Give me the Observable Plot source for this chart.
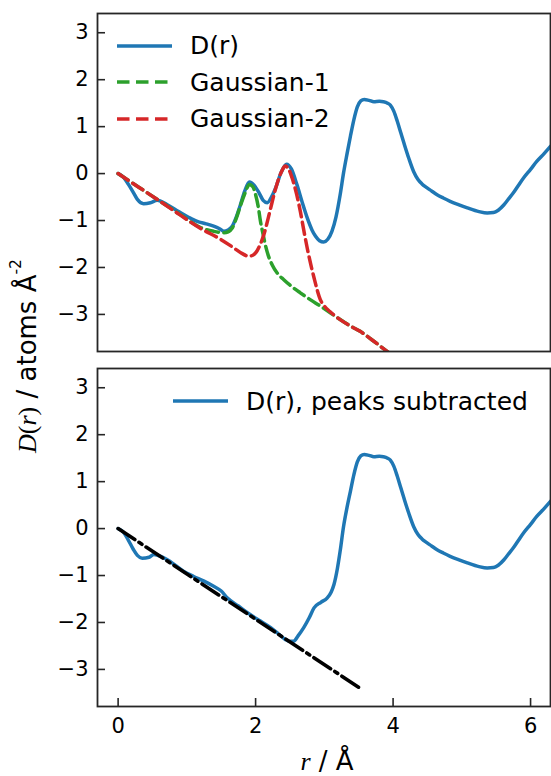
<!DOCTYPE html>
<html><head><meta charset="utf-8">
<script src="https://cdn.jsdelivr.net/npm/d3@7"></script>
<script src="https://cdn.jsdelivr.net/npm/@observablehq/plot@0.6"></script>
<style>
html,body{margin:0;padding:0;background:#fff;}
#chart{position:relative;width:551px;height:776px;font-family:"DejaVu Sans",sans-serif;color:#000;overflow:hidden;background:#fff;}
.panel{position:absolute;left:0;}
.legend{position:absolute;font-size:25px;white-space:nowrap;}
.row{display:flex;align-items:center;height:36.6px;}
.row svg{margin-right:18px;flex:none;}
.serif{font-family:"Liberation Serif","DejaVu Serif",serif;}
.it{font-style:italic;}
.lab{position:absolute;font-size:26px;white-space:nowrap;}
</style></head><body><div id="chart"></div><script>
// ---- data ----
// D(r), top panel
const rD = [0,0.08,0.15,0.22,0.28,0.37,0.47,0.57,0.71,0.88,1.05,1.17,1.28,1.39,1.47,1.54,1.60,1.66,1.72,1.78,1.84,1.91,1.98,2.05,2.11,2.17,2.23,2.29,2.37,2.45,2.52,2.60,2.68,2.75,2.82,2.87,2.93,2.99,3.05,3.11,3.17,3.23,3.28,3.33,3.38,3.43,3.48,3.53,3.58,3.65,3.72,3.80,3.86,3.92,3.96,4.01,4.06,4.11,4.16,4.23,4.30,4.36,4.42,4.49,4.56,4.64,4.73,4.83,4.95,5.08,5.25,5.37,5.46,5.53,5.61,5.68,5.75,5.82,5.90,6.00,6.09,6.20,6.29];
const dD = [0,-0.08,-0.23,-0.40,-0.55,-0.64,-0.62,-0.57,-0.66,-0.81,-0.95,-1.03,-1.07,-1.12,-1.17,-1.23,-1.20,-1.12,-0.92,-0.66,-0.38,-0.18,-0.25,-0.41,-0.57,-0.62,-0.50,-0.31,0.02,0.20,0.10,-0.23,-0.62,-0.94,-1.20,-1.33,-1.43,-1.46,-1.40,-1.23,-0.92,-0.45,0.02,0.42,0.80,1.15,1.42,1.55,1.58,1.56,1.53,1.54,1.53,1.50,1.46,1.33,1.12,0.88,0.64,0.32,0.04,-0.12,-0.22,-0.30,-0.37,-0.45,-0.52,-0.59,-0.66,-0.73,-0.81,-0.84,-0.83,-0.78,-0.67,-0.54,-0.41,-0.26,-0.09,0.09,0.26,0.43,0.58];
// Gaussian-1
const rG1 = [0,0.3,0.6,0.9,1.2,1.39,1.54,1.60,1.66,1.72,1.78,1.85,1.91,1.96,2.00,2.04,2.07,2.11,2.14,2.19,2.24,2.32,2.41,2.52,2.65,2.80,2.94,3.08,3.23,3.37,3.52,3.70,3.95];
const dG1 = [0,-0.29,-0.58,-0.87,-1.15,-1.23,-1.26,-1.24,-1.16,-0.95,-0.68,-0.40,-0.23,-0.28,-0.45,-0.72,-1.01,-1.30,-1.51,-1.77,-1.94,-2.13,-2.26,-2.40,-2.54,-2.69,-2.82,-2.96,-3.11,-3.24,-3.36,-3.55,-3.83];
// Gaussian-2
const rG2 = [0,0.3,0.6,0.9,1.2,1.49,1.68,1.80,1.90,1.96,2.02,2.07,2.12,2.17,2.22,2.28,2.34,2.39,2.43,2.48,2.53,2.59,2.65,2.70,2.75,2.80,2.85,2.90,2.94,3.00,3.08,3.23,3.37,3.52,3.70,3.95];
const dG2 = [0,-0.29,-0.58,-0.88,-1.17,-1.40,-1.58,-1.70,-1.76,-1.74,-1.65,-1.50,-1.30,-1.03,-0.73,-0.38,-0.09,0.08,0.16,0.10,-0.09,-0.40,-0.80,-1.20,-1.58,-1.92,-2.22,-2.50,-2.68,-2.82,-2.94,-3.11,-3.24,-3.36,-3.55,-3.83];
// D(r), peaks subtracted (bottom panel)
const rS = [0,0.08,0.15,0.22,0.28,0.35,0.45,0.52,0.62,0.71,0.83,0.95,1.10,1.25,1.39,1.50,1.59,1.75,1.92,2.07,2.22,2.33,2.43,2.49,2.55,2.62,2.70,2.78,2.85,2.95,3.04,3.10,3.14,3.19,3.23,3.28,3.33,3.38,3.43,3.48,3.53,3.58,3.65,3.72,3.80,3.86,3.92,3.96,4.01,4.06,4.11,4.16,4.23,4.30,4.36,4.42,4.49,4.56,4.64,4.73,4.83,4.95,5.08,5.25,5.37,5.46,5.53,5.61,5.68,5.75,5.82,5.90,6.00,6.09,6.20,6.29];
const dS = [0,-0.08,-0.25,-0.44,-0.57,-0.63,-0.61,-0.55,-0.59,-0.66,-0.78,-0.91,-1.02,-1.12,-1.23,-1.33,-1.48,-1.65,-1.83,-1.97,-2.11,-2.24,-2.36,-2.40,-2.40,-2.28,-2.11,-1.90,-1.69,-1.57,-1.48,-1.35,-1.19,-0.85,-0.48,0.05,0.45,0.80,1.15,1.42,1.55,1.58,1.56,1.53,1.54,1.53,1.50,1.46,1.33,1.12,0.88,0.64,0.32,0.04,-0.12,-0.22,-0.30,-0.37,-0.45,-0.52,-0.59,-0.66,-0.73,-0.81,-0.84,-0.83,-0.78,-0.67,-0.54,-0.41,-0.26,-0.09,0.09,0.26,0.43,0.58];
// linear background (dash-dot)
const rB = [0, 3.5];
const dB = [0, -3.38];
// axes
const xTicks = [0, 2, 4, 6];
const yTicks = [-3, -2, -1, 0, 1, 2, 3];
const xDomain = [-0.3, 6.29];
const yDomain = [-3.79, 3.41];

const rows = (xs, ys) => xs.map((r, i) => ({r, D: ys[i]}));
const topD = rows(rD, dD), g1 = rows(rG1, dG1), g2 = rows(rG2, dG2), sub = rows(rS, dS), base = rows(rB, dB);

const fmt = d => d < 0 ? "\u2212" + Math.abs(d) : String(d);
const C = {blue: "#1f77b4", green: "#2ca02c", red: "#d62728"};
const frameStroke = "#262626";
const LW = 3.5;

function axY() {
  return Plot.axisY({ticks: yTicks, tickSize: -8, tickPadding: 17, fontSize: 21, tickFormat: fmt, label: null, stroke: frameStroke, strokeWidth: 1.6});
}

const topPlot = Plot.plot({
  width: 551, height: 356, marginLeft: 97, marginRight: 1, marginTop: 13, marginBottom: 5,
  style: {fontFamily: "DejaVu Sans", background: "transparent", overflow: "visible"},
  x: {domain: xDomain, axis: null},
  y: {domain: yDomain},
  marks: [
    axY(),
    Plot.line(topD, {x: "r", y: "D", stroke: C.blue, strokeWidth: LW, curve: "monotone-x", clip: true}),
    Plot.line(g1, {x: "r", y: "D", stroke: C.green, strokeWidth: LW, strokeDasharray: "12,5.5", curve: "monotone-x", clip: true}),
    Plot.line(g2, {x: "r", y: "D", stroke: C.red, strokeWidth: LW, strokeDasharray: "12,5.5", curve: "monotone-x", clip: true}),
    Plot.frame({stroke: frameStroke, strokeWidth: 1.8})
  ]
});

const botPlot = Plot.plot({
  width: 551, height: 418, marginLeft: 97, marginRight: 1, marginTop: 10, marginBottom: 70,
  style: {fontFamily: "DejaVu Sans", background: "transparent", overflow: "visible"},
  x: {domain: xDomain},
  y: {domain: yDomain},
  marks: [
    axY(),
    Plot.axisX({ticks: xTicks, tickSize: -8, tickPadding: 20, fontSize: 21, tickFormat: fmt, label: null, stroke: frameStroke, strokeWidth: 1.6}),
    Plot.line(sub, {x: "r", y: "D", stroke: C.blue, strokeWidth: LW, curve: "monotone-x", clip: true}),
    Plot.line(base, {x: "r", y: "D", stroke: "#000", strokeWidth: 3.6, strokeDasharray: "20,5,3.5,5", clip: true}),
    Plot.frame({stroke: frameStroke, strokeWidth: 1.8})
  ]
});

const chart = document.getElementById("chart");
topPlot.classList.add("panel"); topPlot.style.top = "0px";
botPlot.classList.add("panel"); botPlot.style.top = "358px";
chart.appendChild(topPlot);
chart.appendChild(botPlot);

function swatch(color, dash) {
  return `<svg width="55" height="10"><line x1="0" y1="5" x2="55" y2="5" stroke="${color}" stroke-width="${LW}" ${dash ? `stroke-dasharray="${dash}"` : ""}/></svg>`;
}
const legTop = document.createElement("div");
legTop.className = "legend";
legTop.style.left = "117px"; legTop.style.top = "27.5px";
legTop.innerHTML =
  `<div class="row">${swatch(C.blue)}<span>D(r)</span></div>` +
  `<div class="row">${swatch(C.green, "12.5,6.5")}<span>Gaussian-1</span></div>` +
  `<div class="row">${swatch(C.red, "12.5,6.5")}<span>Gaussian-2</span></div>`;
chart.appendChild(legTop);

const legBot = document.createElement("div");
legBot.className = "legend";
legBot.style.left = "173px"; legBot.style.top = "383px";
legBot.innerHTML = `<div class="row">${swatch(C.blue)}<span>D(r), peaks subtracted</span></div>`;
chart.appendChild(legBot);

const yLab = document.createElement("div");
yLab.className = "lab";
yLab.style.left = "27px"; yLab.style.top = "356px";
yLab.style.transform = "translate(-50%,-50%) rotate(-90deg)";
yLab.innerHTML = `<span class="serif"><span class="it">D</span>(<span class="it">r</span>)</span> / atoms Å<sup style="font-size:0.6em;vertical-align:0.9em;line-height:0">-2</sup>`;
chart.appendChild(yLab);

const xLab = document.createElement("div");
xLab.className = "lab";
xLab.style.left = "327px"; xLab.style.top = "761px";
xLab.style.transform = "translate(-50%,-50%)";
xLab.innerHTML = `<span class="serif it">r</span> / Å`;
chart.appendChild(xLab);
</script></body></html>
